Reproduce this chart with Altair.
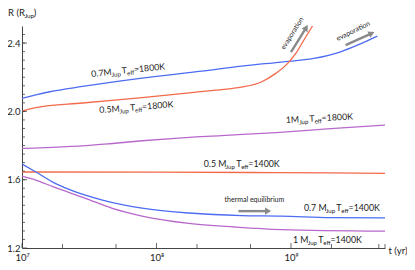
import math
import re
import altair as alt
import pandas as pd

# ---------------- data (log10 t [yr], R [R_Jup]) ----------------
blue1800_logt = [7.0, 7.103, 7.207, 7.45, 7.893, 8.336, 8.631, 8.926, 9.17, 9.369, 9.494, 9.642]
blue1800_R = [2.076, 2.096, 2.115, 2.146, 2.195, 2.236, 2.265, 2.289, 2.310, 2.349, 2.388, 2.441]
red1800_logt = [7.0, 7.103, 7.45, 7.893, 8.262, 8.446, 8.631, 8.779, 8.889, 8.963, 9.037, 9.096, 9.16]
red1800_R = [2.002, 2.022, 2.049, 2.081, 2.110, 2.125, 2.142, 2.172, 2.224, 2.271, 2.341, 2.418, 2.50]
purple1800_logt = [7.0, 7.229, 7.472, 7.672, 7.893, 8.114, 8.483, 8.889, 9.295, 9.699]
purple1800_R = [1.783, 1.789, 1.799, 1.812, 1.828, 1.841, 1.858, 1.876, 1.899, 1.920]
red1400_logt = [7.0, 8.0, 8.7, 9.3, 9.699]
red1400_R = [1.645, 1.644, 1.642, 1.640, 1.637]
blue1400_logt = [7.0, 7.103, 7.229, 7.354, 7.598, 7.893, 8.24, 8.631, 8.926, 9.295, 9.699]
blue1400_R = [1.692, 1.645, 1.586, 1.542, 1.481, 1.434, 1.405, 1.390, 1.387, 1.378, 1.376]
purple1400_logt = [7.0, 7.103, 7.229, 7.472, 7.672, 7.893, 8.24, 8.579, 8.926, 9.699]
purple1400_R = [1.621, 1.598, 1.559, 1.491, 1.432, 1.387, 1.344, 1.323, 1.308, 1.299]

series_names = ["b1800", "r1800", "p1800", "r1400", "b1400", "p1400"]
series_colors = ["#4d6cf2", "#f26a4a", "#b868cc", "#f26a4a", "#4d6cf2", "#b868cc"]

label_texts = ["0.7M_{Jup} T_{eff}=1800K", "0.5M_{Jup} T_{eff}=1800K", "1M_{Jup} T_{eff}=1800K",
               "0.5 M_{Jup} T_{eff}=1400K", "0.7 M_{Jup} T_{eff}=1400K", "1 M_{Jup} T_{eff}=1400K"]
label_logt = [7.517, 7.576, 8.963, 8.351, 9.096, 9.015]
label_R = [2.201, 1.990, 1.932, 1.677, 1.419, 1.232]
label_angle = [-6, -4.5, -3, 0, 0, 0]

note_texts = ["thermal equilibrium", "evaporation", "evaporation"]
note_logt = [8.506, 9.347, 8.951]
note_R = [1.471, 2.412, 2.359]
note_angle = [0, -26, -58]

arrow_logt1 = [8.609, 9.406, 9.0]
arrow_R1 = [1.416, 2.388, 2.347]
arrow_logt2 = [8.852, 9.620, 9.125]
arrow_R2 = [1.416, 2.464, 2.505]

x_label_values = [1e7, 1e8, 1e9]
y_label_values = [1.2, 1.6, 2.0, 2.4]
x_minor_ticks = [2e7, 5e7, 2e8, 5e8, 2e9, 4.5e9, 5e9]

# ---------------- layout ----------------
W, H = 363, 222
XMIN, XMAX = 1e7, 5e9
YMIN, YMAX = 1.2, 2.5
PX_X = W / (math.log10(XMAX) - math.log10(XMIN))
PX_Y = H / (YMAX - YMIN)
FONT = "Lato"
TXT = "#222222"

xs = alt.Scale(type="log", domain=[XMIN, XMAX], nice=False)
ys = alt.Scale(domain=[YMIN, YMAX], nice=False, zero=False)

XAXIS = alt.Axis(
    values=x_label_values, ticks=False, grid=False, domainColor="#444", domainWidth=1,
    labelExpr="datum.value < 5e7 ? '10⁷' : (datum.value < 5e8 ? '10⁸' : '10⁹')",
    labelFont=FONT, labelFontSize=9.5, labelColor=TXT, labelPadding=4.5, labelFlush=False,
    title="t (yr)", titleFont=FONT, titleFontSize=9.5, titleFontWeight="normal", titleColor=TXT,
    titleX=W + 3, titleY=2, titleAlign="left", titleBaseline="middle", titleAnchor="start")
YAXIS = alt.Axis(
    values=y_label_values, format=".1f", ticks=False, grid=False, domainColor="#444",
    labelFont=FONT, labelFontSize=9.5, labelColor=TXT, labelPadding=2, labelFlush=False,
    title=None)

# curves
rows = []
all_series = [
    (blue1800_logt, blue1800_R), (red1800_logt, red1800_R), (purple1800_logt, purple1800_R),
    (red1400_logt, red1400_R), (blue1400_logt, blue1400_R), (purple1400_logt, purple1400_R),
]
for name, (lt, rr) in zip(series_names, all_series):
    for i, (a, b) in enumerate(zip(lt, rr)):
        rows.append({"s": name, "t": 10 ** a, "R": b, "o": i})
curves_df = pd.DataFrame(rows)

curves = alt.Chart(curves_df).mark_line(strokeWidth=1.3, interpolate="monotone").encode(
    x=alt.X("t:Q", scale=xs, axis=XAXIS),
    y=alt.Y("R:Q", scale=ys, axis=YAXIS),
    color=alt.Color("s:N", scale=alt.Scale(domain=series_names, range=series_colors), legend=None),
    detail="s:N",
    order="o:Q",
)

# text with subscripts
CW = {" ": 0.193, ".": 0.23, "=": 0.58, "M": 0.9, "K": 0.64, "T": 0.565, "R": 0.62, "J": 0.36,
      "u": 0.545, "p": 0.555, "e": 0.52, "f": 0.33, "(": 0.3, ")": 0.3}
for d in "0123456789":
    CW[d] = 0.58


def tw(s, fs):
    return sum(CW.get(c, 0.55) for c in s) * fs


def segments(markup, logt0, r0, ang, fs, sub_fs, drop=2.1):
    out = []
    a = math.radians(ang)
    s = 0.0
    for p in re.split(r"(_\{[^}]*\})", markup):
        if not p:
            continue
        if p.startswith("_{"):
            txt, size, v = p[2:-1], sub_fs, drop
        else:
            txt, size, v = p, fs, 0.0
        lead = len(txt) - len(txt.lstrip(" "))
        s += lead * CW[" "] * size
        txt = txt.lstrip(" ")
        dx = s * math.cos(a) - v * math.sin(a)
        dy = s * math.sin(a) + v * math.cos(a)
        out.append({"t": 10 ** (logt0 + dx / PX_X), "R": r0 - dy / PX_Y, "txt": txt,
                    "fs": size, "ang": ang % 360})
        s += tw(txt, size)
    return out


seg_rows = []
for txt, lt, rr, ang in zip(label_texts, label_logt, label_R, label_angle):
    seg_rows += segments(txt, lt, rr, ang, 8.8, 6.1)
for txt, lt, rr, ang in zip(note_texts, note_logt, note_R, note_angle):
    seg_rows += segments(txt, lt, rr, ang, 7, 5)
seg_df = pd.DataFrame(seg_rows)

labels = alt.Chart(seg_df).mark_text(align="left", baseline="alphabetic", font=FONT, color=TXT).encode(
    x=alt.X("t:Q", scale=xs, axis=XAXIS),
    y=alt.Y("R:Q", scale=ys, axis=YAXIS),
    text="txt:N",
    size=alt.Size("fs:Q", scale=None),
    angle=alt.Angle("ang:Q", scale=None),
)

# arrows
arr_rows = []
for a1, r1, a2, r2 in zip(arrow_logt1, arrow_R1, arrow_logt2, arrow_R2):
    px = (a2 - a1) * PX_X
    py = -(r2 - r1) * PX_Y
    L = math.hypot(px, py)
    ux, uy = px / L, py / L
    back = 3.0
    ea = a2 - back * ux / PX_X
    er = r2 + back * uy / PX_Y
    ang = math.degrees(math.atan2(py, px)) % 360
    arr_rows.append({"t1": 10 ** a1, "R1": r1, "t2": 10 ** ea, "R2": er, "ang": ang})
arr_df = pd.DataFrame(arr_rows)

arrow_lines = alt.Chart(arr_df).mark_rule(color="#8a8a8a", strokeWidth=2.4).encode(
    x=alt.X("t1:Q", scale=xs, axis=XAXIS), x2="t2:Q",
    y=alt.Y("R1:Q", scale=ys, axis=YAXIS), y2="R2:Q",
)
arrow_heads = alt.Chart(arr_df).mark_point(shape="triangle-right", filled=True, color="#8a8a8a",
                                           opacity=1, size=50).encode(
    x=alt.X("t2:Q", scale=xs, axis=XAXIS),
    y=alt.Y("R2:Q", scale=ys, axis=YAXIS),
    angle=alt.Angle("ang:Q", scale=None),
)

# inward ticks
y_minor = [round(1.2 + 0.05 * i, 2) for i in range(1, 26)]
ytick_minor = alt.Chart(pd.DataFrame({"v": y_minor})).mark_rule(color="#444", strokeWidth=0.8).encode(
    y=alt.Y("v:Q", scale=ys, axis=YAXIS), x=alt.value(0), x2=alt.value(3))
ytick_major = alt.Chart(pd.DataFrame({"v": y_label_values})).mark_rule(color="#444", strokeWidth=0.8).encode(
    y=alt.Y("v:Q", scale=ys, axis=YAXIS), x=alt.value(0), x2=alt.value(5))
xtick_minor = alt.Chart(pd.DataFrame({"v": x_minor_ticks})).mark_rule(color="#444", strokeWidth=0.8).encode(
    x=alt.X("v:Q", scale=xs, axis=XAXIS), y=alt.value(H), y2=alt.value(H - 4))
xtick_major = alt.Chart(pd.DataFrame({"v": x_label_values})).mark_rule(color="#444", strokeWidth=0.8).encode(
    x=alt.X("v:Q", scale=xs, axis=XAXIS), y=alt.value(H), y2=alt.value(H - 5))

# y axis title R (R_Jup)
TY = -10
one = pd.DataFrame({"k": [0]})
t1 = alt.Chart(one).mark_text(text="R (R", align="left", baseline="alphabetic", font=FONT,
                              fontSize=9.5, color=TXT).encode(x=alt.value(-14), y=alt.value(TY))
t2 = alt.Chart(one).mark_text(text="Jup", align="left", baseline="alphabetic", font=FONT,
                              fontSize=6.3, color=TXT).encode(x=alt.value(-14 + tw("R (R", 9.5)),
                                                              y=alt.value(TY + 2.2))
t3 = alt.Chart(one).mark_text(text=")", align="left", baseline="alphabetic", font=FONT,
                              fontSize=9.5, color=TXT).encode(
    x=alt.value(-14 + tw("R (R", 9.5) + tw("Jup", 6.3)), y=alt.value(TY))

chart = alt.layer(
    curves, ytick_minor, ytick_major, xtick_minor, xtick_major,
    arrow_lines, arrow_heads, labels, t1, t2, t3,
).properties(
    width=W, height=H,
    padding={"left": 14, "top": 18, "right": 22, "bottom": 14},
    autosize=alt.AutoSizeParams(type="none"),
).configure_view(stroke=None)

chart.save("out.html", embed_options={"renderer": "svg", "actions": False})
